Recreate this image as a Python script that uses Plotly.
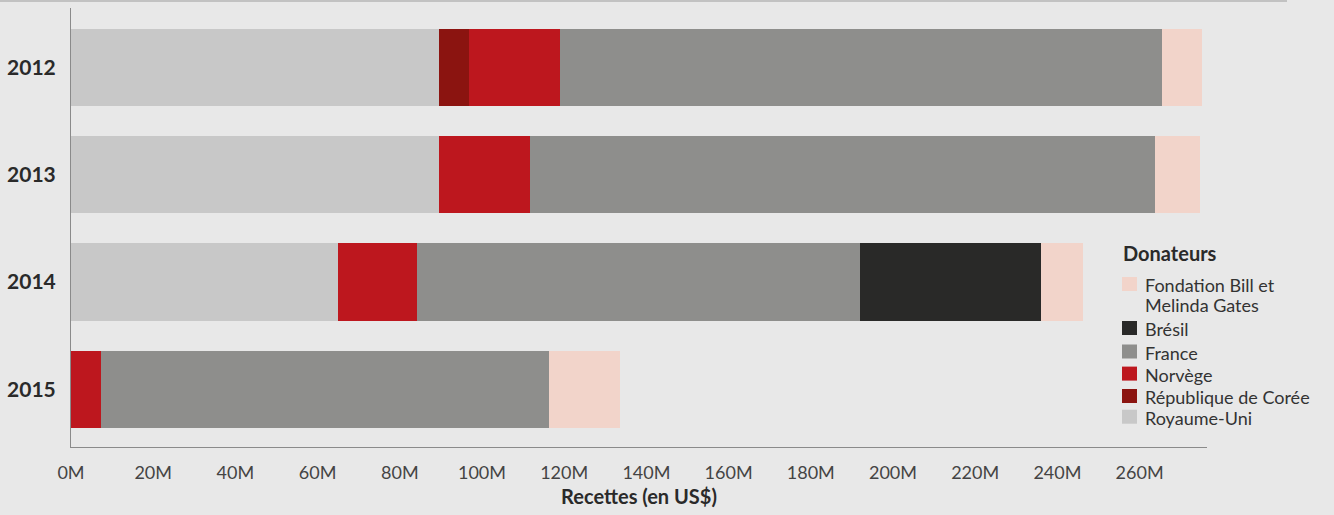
import plotly.graph_objects as go

years = ["2012", "2013", "2014", "2015"]
royaume_uni = [89.5, 89.5, 65.0, 0]
coree = [7.3, 0, 0, 0]
norvege = [22.2, 22.2, 19.2, 7.2]
france = [146.4, 152.0, 107.8, 109.0]
bresil = [0, 0, 44.0, 0]
gates = [9.8, 11.0, 10.2, 17.3]

series = [
    ("Royaume-Uni", royaume_uni, "#c8c8c8"),
    ("République de Corée", coree, "#8b1410"),
    ("Norvège", norvege, "#bd171e"),
    ("France", france, "#8e8e8c"),
    ("Brésil", bresil, "#292928"),
    ("Fondation Bill et<br>Melinda Gates", gates, "#f2d4ca"),
]

FONT = "Lato"
fig = go.Figure()
for name, vals, col in series:
    fig.add_trace(go.Bar(
        y=years, x=vals, name=name, orientation="h",
        marker=dict(color=col, line=dict(width=0)),
        showlegend=False,
    ))

W, H = 1334, 515
L, R, T, B = 71, 127, 8, 68
pw = W - L - R
ph = H - T - B


def px(x):
    return (x - L) / pw


def py(y):
    return (H - B - y) / ph


fig.update_layout(
    width=W, height=H,
    barmode="stack",
    bargap=0.28,
    paper_bgcolor="#e8e8e8",
    plot_bgcolor="#e8e8e8",
    margin=dict(l=L, r=R, t=T, b=B, autoexpand=False),
    font=dict(family=FONT, color="#333333", size=16),
    showlegend=False,
    xaxis=dict(
        range=[0, 276.4],
        tickvals=[i * 20 for i in range(14)],
        ticktext=[f"{i * 20}M" for i in range(14)],
        tickfont=dict(size=18, color="#444444"),
        showgrid=False, zeroline=False,
        showline=True, linecolor="#8a8a8a", linewidth=1,
        ticks="", ticklabelstandoff=9,
        title=dict(text="<b>Recettes (en US$)</b>", font=dict(size=20, color="#2a2a2a"), standoff=8),
        fixedrange=True,
    ),
    yaxis=dict(
        categoryorder="array", categoryarray=years,
        range=[3.537, -0.555],
        tickfont=dict(size=21, color="#2a2a2a", weight="bold"),
        showgrid=False, zeroline=False,
        showline=True, linecolor="#8a8a8a", linewidth=1,
        ticks="", ticklabelstandoff=10,
        fixedrange=True,
    ),
)

fig.add_shape(
    type="line", xref="paper", yref="paper",
    x0=px(0), x1=px(1287), y0=py(1), y1=py(1),
    line=dict(color="#c2c2c2", width=2),
)

# manual legend (reversed trace order)
fig.add_annotation(
    xref="paper", yref="paper", x=px(1121), y=py(253),
    xanchor="left", yanchor="middle", showarrow=False,
    text="<b>Donateurs</b>", font=dict(size=20, color="#2a2a2a", family=FONT),
)
centers = [284, 328, 351.5, 373.6, 396, 416.7]
for (name, vals, col), cy in zip(series[::-1], centers):
    fig.add_shape(
        type="rect", xref="paper", yref="paper",
        x0=px(1122), x1=px(1137), y0=py(cy - 7), y1=py(cy + 7),
        fillcolor=col, line=dict(width=0),
    )
    for k, line in enumerate(name.split("<br>")):
        fig.add_annotation(
            xref="paper", yref="paper", x=px(1143), y=py(cy + 1 + 19.5 * k),
            xanchor="left", yanchor="middle",
            showarrow=False, align="left",
            text=line, font=dict(size=18, color="#333333", family=FONT),
        )

fig.write_html("out.html")
